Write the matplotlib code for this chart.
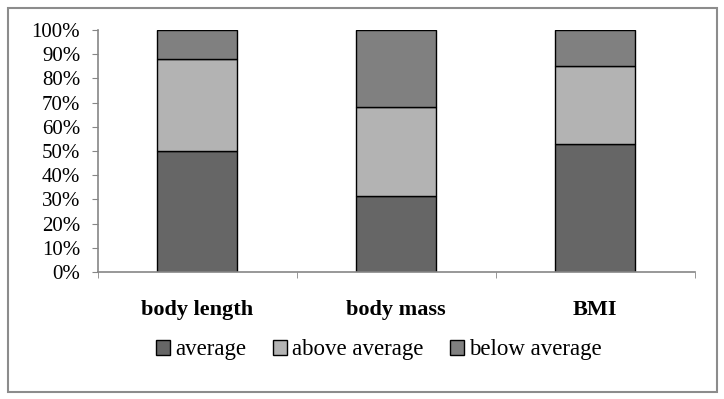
import matplotlib.pyplot as plt
from matplotlib.patches import Rectangle
from matplotlib.ticker import FixedLocator, PercentFormatter

categories = ["body length", "body mass", "BMI"]
average = [50, 31.5, 53]
above_average = [38, 36.7, 32]
below_average = [12, 31.8, 15]

series = [
    ("average", average, "#666666"),
    ("above average", above_average, "#b3b3b3"),
    ("below average", below_average, "#808080"),
]

plt.rcParams["font.family"] = ["Liberation Serif", "DejaVu Serif"]

fig = plt.figure(figsize=(7.24, 3.99), dpi=100)
ax = fig.add_axes([97.5 / 724, 1 - 272 / 399, 597 / 724, 242 / 399])

x = range(len(categories))
bottom = [0] * len(categories)
for label, values, color in series:
    ax.bar(x, values, width=0.4, bottom=bottom, color=color,
           edgecolor="black", linewidth=1.0, label=label)
    bottom = [b + v for b, v in zip(bottom, values)]

ax.set_xlim(-0.5, len(categories) - 0.5)
ax.set_ylim(0, 100)
ax.set_yticks(range(0, 101, 10))
ax.yaxis.set_major_formatter(PercentFormatter(decimals=0))
ax.tick_params(axis="y", labelsize=15, length=4.5, color="#868686", pad=8)

ax.set_xticks(list(x))
ax.set_xticklabels(categories, fontsize=16, fontweight="bold")
ax.tick_params(axis="x", which="major", length=0, pad=20)
ax.xaxis.set_minor_locator(FixedLocator([i - 0.5 for i in range(len(categories) + 1)]))
ax.tick_params(axis="x", which="minor", length=4.5, color="#868686")

for side in ("top", "right"):
    ax.spines[side].set_visible(False)
for side in ("left", "bottom"):
    ax.spines[side].set_color("#868686")
    ax.spines[side].set_linewidth(1.2)

fig.legend(loc="center", bbox_to_anchor=(379 / 724, 1 - 350 / 399), ncol=3,
           frameon=False, fontsize=16.5, handlelength=0.6, handleheight=0.6,
           handletextpad=0.25, columnspacing=1.15)

fig.patches.append(Rectangle((8 / 724, 1 - 392 / 399), 709 / 724, 384 / 399,
                             transform=fig.transFigure, fill=False,
                             edgecolor="#8c8c8c", linewidth=1.5))

fig.savefig("out.png", dpi=100)
plt.close(fig)
